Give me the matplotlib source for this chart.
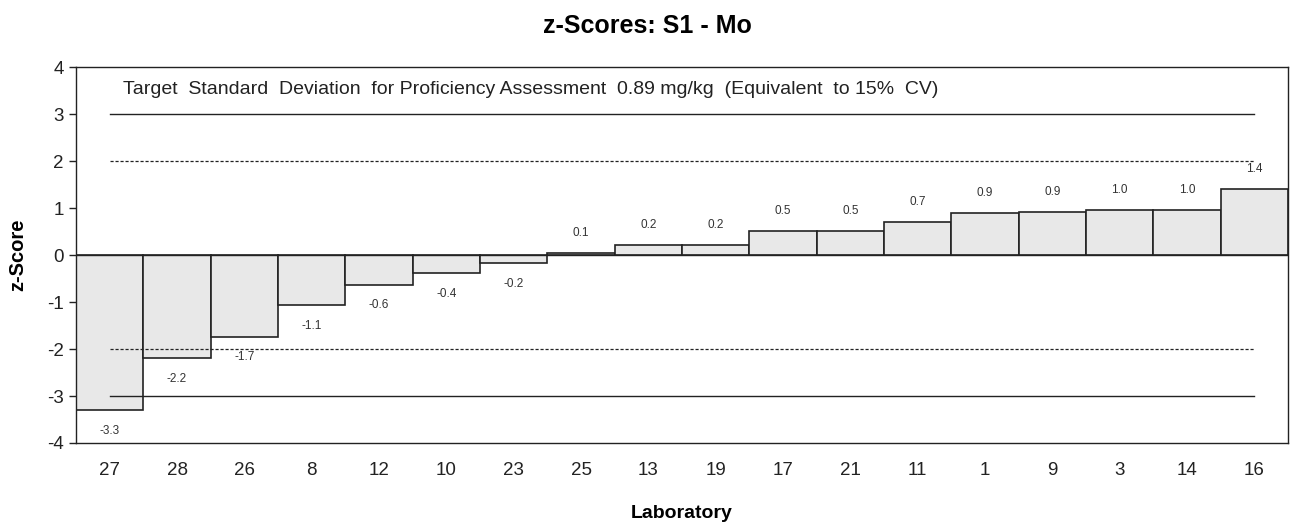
import matplotlib

matplotlib.use("Agg")
import matplotlib.pyplot as plt
import numpy as np

plt.rcParams["font.family"] = ["Liberation Sans", "DejaVu Sans"]
plt.rcParams["axes.unicode_minus"] = False

labs = ["27", "28", "26", "8", "12", "10", "23", "25", "13", "19",
        "17", "21", "11", "1", "9", "3", "14", "16"]
zscores = [-3.30, -2.19, -1.74, -1.06, -0.63, -0.38, -0.17, 0.05, 0.21, 0.21,
           0.51, 0.51, 0.70, 0.89, 0.92, 0.96, 0.96, 1.40]
note = ("Target  Standard  Deviation  for Proficiency Assessment  0.89 mg/kg  "
        "(Equivalent  to 15%  CV)")

INK = "#222222"
FILL = "#e8e8e8"


def main():
    fig = plt.figure(figsize=(12.95, 5.32), dpi=100)
    ax = fig.add_axes([0.0587, 0.1673, 0.9359, 0.7067])

    x = np.arange(len(labs))
    ax.bar(x, zscores, width=1.0, color=FILL, edgecolor=INK, linewidth=1.2, zorder=2)

    # reference limits, centre of first bar to centre of last, drawn over the bars
    for lvl in (3, -3):
        ax.plot([x[0], x[-1]], [lvl, lvl], color=INK, lw=1.0, zorder=3)
    for lvl in (2, -2):
        ax.plot([x[0], x[-1]], [lvl, lvl], color=INK, lw=0.9, ls=(0, (2.5, 1.5)), zorder=3)
    ax.axhline(0, color=INK, lw=1.0, zorder=3)

    for xi, v in zip(x, zscores):
        off = 0.42 if v >= 0 else -0.44
        ax.text(xi, v + off, f"{v:.1f}", ha="center", va="center",
                fontsize=8.5, color="#333333")

    ax.text(0.039, 0.941, note, transform=ax.transAxes, fontsize=14,
            color=INK, va="center", ha="left")

    ax.set_xlim(-0.5, len(labs) - 0.5)
    ax.set_ylim(-4, 4)
    ax.set_yticks(range(-4, 5))
    ax.set_xticks(x)
    ax.set_xticklabels(labs)
    ax.tick_params(axis="x", length=0, pad=14, labelsize=13.5, colors=INK)
    ax.tick_params(axis="y", length=5, width=1, labelsize=13.5, colors=INK,
                   direction="out", pad=4)
    for sp in ax.spines.values():
        sp.set_color(INK)
        sp.set_linewidth(1.0)

    ax.set_ylabel("z-Score", fontsize=14.5, fontweight="bold")
    ax.yaxis.set_label_coords(-0.040, 0.5)
    ax.set_xlabel("Laboratory", fontsize=14, fontweight="bold")
    ax.xaxis.set_label_coords(0.5, -0.165)
    fig.suptitle("z-Scores: S1 - Mo", fontsize=18, fontweight="bold",
                 y=0.952, va="center")

    fig.savefig("out.png", dpi=100, facecolor="white")
    plt.close(fig)


if __name__ == "__main__":
    main()
